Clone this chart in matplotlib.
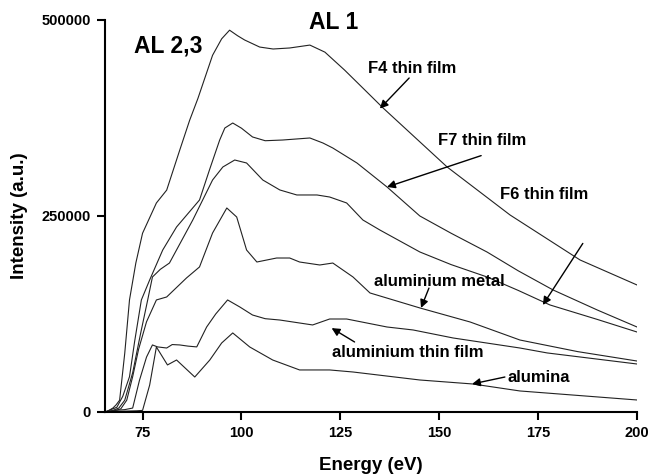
import numpy as np
import matplotlib.pyplot as plt

plt.rcParams['font.family'] = ['Liberation Sans', 'DejaVu Sans']
plt.rcParams['font.weight'] = 'bold'

# spectra read as (energy eV, intensity a.u.)
f4_e = [65.5, 66.5, 67.5, 68.3, 69.2, 70.5, 71.7, 73.3, 75.0, 78.5, 81.1, 84.4, 86.9, 89.0,
        92.7, 95.0, 97.0, 99.0, 100.8, 104.6, 108.0, 112.2, 117.3, 121.1, 126.1, 131.2,
        135.8, 152.0, 167.9, 185.6, 200.0]
f4_i = [0, 2000, 5000, 9000, 15000, 75000, 143000, 190000, 228000, 266600, 283000, 334000,
        372000, 400000, 455000, 476000, 487000, 480000, 474500, 465500, 463000, 464300,
        468000, 459000, 436000, 410700, 387800, 312500, 251300, 193900, 162000]

f7_e = [65.5, 67.0, 68.5, 70.0, 71.7, 73.0, 74.7, 76.8, 80.1, 83.6, 89.4, 92.0, 94.5, 95.8,
        97.8, 100.0, 102.8, 106.0, 110.4, 117.3, 120.6, 123.1, 129.2, 136.8, 145.1, 153.0,
        162.1, 170.0, 178.8, 190.0, 200.0]
f7_i = [0, 3000, 6000, 20000, 45000, 90000, 142900, 168400, 206600, 236000, 270400, 310000,
        346900, 362200, 368600, 362000, 350800, 346000, 346900, 349500, 343100, 336700,
        317600, 287000, 250000, 228000, 204000, 180000, 155600, 130000, 108400]

f6_e = [65.5, 67.5, 69.0, 70.5, 72.5, 74.5, 76.3, 77.5, 79.5, 81.8, 87.7, 92.7, 95.3, 98.3,
        101.3, 105.4, 109.7, 114.0, 119.1, 122.3, 126.6, 130.7, 135.0, 145.1, 153.0, 162.1,
        170.0, 178.0, 190.0, 200.0]
f6_i = [0, 2000, 5000, 15000, 50000, 100000, 142900, 172200, 182000, 190000, 244900, 295900,
        312500, 321400, 317600, 295900, 283200, 276800, 276800, 274200, 266600, 244900,
        232100, 204100, 188000, 172200, 155000, 136500, 118000, 102000]

metal_e = [65.5, 67.5, 69.5, 71.0, 72.5, 74.0, 76.0, 78.5, 81.1, 86.1, 89.4, 92.7, 96.3, 98.8,
           101.3, 103.9, 108.9, 112.2, 114.7, 119.8, 123.1, 128.2, 132.5, 145.1, 157.8, 170.4,
           185.0, 200.0]
metal_i = [0, 1000, 4000, 15000, 45000, 80000, 115000, 142900, 146700, 170900, 185000, 228300,
           260200, 248700, 206600, 191300, 196400, 196400, 191300, 187500, 190000, 172200,
           151800, 132700, 114800, 91800, 77000, 65000]

film_e = [65.5, 68.0, 70.5, 72.5, 74.2, 76.0, 77.5, 78.8, 81.1, 82.5, 84.4, 86.5, 88.7, 91.2,
          93.5, 96.5, 99.6, 102.8, 106.0, 109.7, 114.7, 118.0, 122.3, 126.6, 136.8, 143.4,
          153.5, 170.4, 177.3, 200.0]
film_i = [0, 2000, 3000, 5000, 40000, 70000, 85500, 83000, 81600, 86000, 85500, 84000, 83000,
          108400, 125000, 142900, 133900, 123700, 119000, 117300, 113500, 111000, 118600,
          118600, 108400, 104600, 94400, 81600, 75300, 61200]

alumina_e = [65.5, 70.0, 73.5, 75.0, 76.8, 78.5, 81.3, 83.6, 88.2, 92.0, 95.0, 97.8, 102.1,
             107.9, 114.7, 122.3, 128.2, 145.1, 158.5, 170.4, 200.0]
alumina_i = [0, 1000, 1500, 2000, 34400, 82900, 60000, 66300, 44600, 66300, 88000, 100800,
             82900, 66300, 53600, 53600, 51000, 40800, 35700, 26800, 15300]

x_ticks = [75, 100, 125, 150, 175, 200]
y_ticks = [0, 250000, 500000]

# annotations: label, text position, arrow tail, arrow head
labels = ['F4 thin film', 'F7 thin film', 'F6 thin film',
          'aluminium metal', 'aluminium thin film', 'alumina']
text_xy = [(143.1, 437500), (160.8, 345700), (176.6, 278000),
           (150.1, 165800), (142.1, 76500), (175.1, 44600)]
tail_xy = [(142.4, 426000), (160.6, 327000), (186.3, 215000),
           (147.4, 158000), (128.6, 89300), (166.6, 44600)]
head_xy = [(135.0, 387000), (136.8, 287000), (176.2, 136500),
           (145.4, 132700), (122.8, 107000), (158.3, 35700)]

fig = plt.figure(figsize=(6.5, 4.76), dpi=100)
ax = fig.add_axes([0.1615, 0.1345, 0.8185, 0.8235])

for e, i in [(f4_e, f4_i), (f7_e, f7_i), (f6_e, f6_i), (metal_e, metal_i),
             (film_e, film_i), (alumina_e, alumina_i)]:
    ax.plot(e, i, color='#222222', lw=0.8)

for lab, t, a, h in zip(labels, text_xy, tail_xy, head_xy):
    ax.text(t[0], t[1], lab, ha='center', va='center', fontsize=12, fontweight='bold')
    ax.annotate('', xy=h, xytext=a,
                arrowprops=dict(arrowstyle='-|>', color='black', lw=1.0,
                                mutation_scale=12, shrinkA=0, shrinkB=0))

ax.text(81.6, 466800, 'AL 2,3', ha='center', va='center', fontsize=16.5, fontweight='bold')
ax.text(123.3, 497000, 'AL 1', ha='center', va='center', fontsize=16.5, fontweight='bold',
        clip_on=False)

ax.set_xlim(65.5, 200)
ax.set_ylim(0, 500000)
ax.set_xticks(x_ticks)
ax.set_yticks(y_ticks)
ax.set_xticklabels([str(v) for v in x_ticks], fontsize=10.5, fontweight='bold')
ax.set_yticklabels([str(v) for v in y_ticks], fontsize=10.5, fontweight='bold')
ax.tick_params(direction='out', length=6, width=1.5, pad=4)

for side in ['top', 'right']:
    ax.spines[side].set_visible(False)
for side in ['left', 'bottom']:
    ax.spines[side].set_linewidth(1.5)

ax.set_xlabel('Energy (eV)', fontsize=13.5, fontweight='bold', labelpad=12)
ax.set_ylabel('Intensity (a.u.)', fontsize=13.5, fontweight='bold', labelpad=10)

fig.savefig('out.png', dpi=100)
